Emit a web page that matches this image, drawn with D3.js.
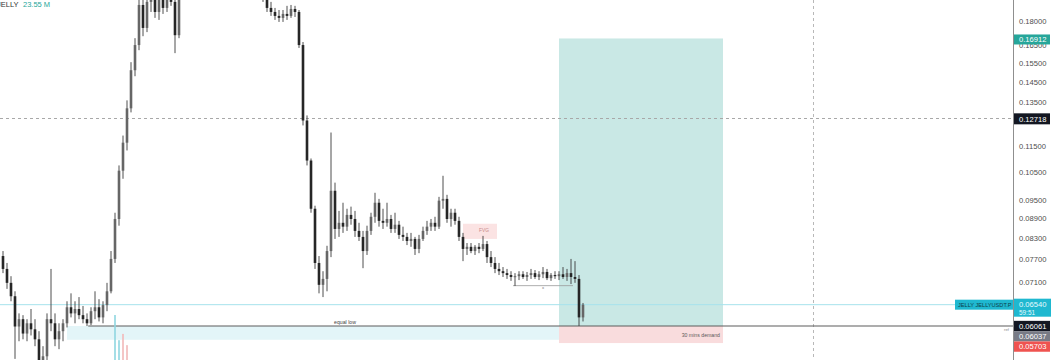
<!DOCTYPE html>
<html>
<head>
<meta charset="utf-8">
<script src="https://cdn.jsdelivr.net/npm/d3@7"></script>
<style>
html, body { margin: 0; padding: 0; background: #fff; overflow: hidden; }
svg { display: block; font-family: "Liberation Sans", Arial, sans-serif; }
</style>
</head>
<body>
<div id="chart"></div>
<script>
// JELLYUSDT.P candles (one every ~4px)
const opens = [
  0.0778,0.0743,0.0707,0.0674,0.0605,0.0621,0.0590,0.0612,0.0599,0.0578,
  0.0534,0.0544,0.0621,0.0612,0.0578,0.0595,0.0612,0.0648,0.0634,0.0644,
  0.0630,0.0621,0.0612,0.0639,0.0648,0.0625,0.0653,0.0686,0.0770,0.0888,
  0.1055,0.1166,0.1318,0.1510,0.1652,0.1906,0.1756,0.1927,0.1996,0.1859,
  0.1941,0.1886,0.1975,0.1927,0.1711,0.1975,0.2085,0.2150,0.2230,0.2200,
  0.2270,0.2350,0.2310,0.2250,0.2300,0.2370,0.2340,0.2280,0.2220,0.2260,
  0.2180,0.2150,0.2110,0.2130,0.2070,0.2048,0.1954,0.1886,0.1859,0.1833,
  0.1820,0.1846,0.1833,0.1879,0.1859,0.1652,0.1262,0.1094,0.0921,0.0759,
  0.0702,0.0717,0.0792,0.0982,0.0857,0.0876,0.0864,0.0901,0.0888,0.0851,
  0.0833,0.0792,0.0851,0.0895,0.0941,0.0882,0.0876,0.0888,0.0857,0.0870,
  0.0839,0.0833,0.0821,0.0827,0.0798,0.0827,0.0851,0.0864,0.0876,0.0864,
  0.0948,0.0954,0.0888,0.0908,0.0882,0.0833,0.0798,0.0804,0.0792,0.0804,
  0.0798,0.0812,0.0775,0.0759,0.0743,0.0737,0.0732,0.0727,0.0722,0.0724,
  0.0729,0.0722,0.0727,0.0732,0.0722,0.0729,0.0735,0.0719,0.0727,0.0724,
  0.0729,0.0722,0.0732,0.0722,0.0717,0.0625
];
const highs = [
  0.0792,0.0759,0.0724,0.0686,0.0634,0.0630,0.0621,0.0644,0.0621,0.0595,
  0.0564,0.0634,0.0743,0.0634,0.0612,0.0621,0.0662,0.0681,0.0662,0.0672,
  0.0651,0.0634,0.0648,0.0686,0.0667,0.0662,0.0707,0.0792,0.0908,0.1075,
  0.1196,0.1356,0.1554,0.1693,0.1975,0.2011,0.1996,0.2048,0.2085,0.1975,
  0.2025,0.2011,0.2048,0.1996,0.2011,0.2123,0.2180,0.2260,0.2310,0.2290,
  0.2380,0.2420,0.2360,0.2330,0.2400,0.2450,0.2380,0.2330,0.2290,0.2300,
  0.2240,0.2210,0.2170,0.2160,0.2110,0.2100,0.1982,0.1927,0.1886,0.1872,
  0.1872,0.1900,0.1906,0.1900,0.1872,0.1670,0.1285,0.1102,0.0931,0.0778,
  0.0737,0.0807,0.1209,0.1011,0.0914,0.0941,0.0921,0.0928,0.0914,0.0876,
  0.0851,0.0867,0.0908,0.0975,0.0954,0.0921,0.0941,0.0901,0.0908,0.0882,
  0.0864,0.0845,0.0845,0.0833,0.0839,0.0864,0.0882,0.0888,0.0895,0.0961,
  0.1036,0.0968,0.0921,0.0921,0.0895,0.0845,0.0815,0.0815,0.0809,0.0815,
  0.0836,0.0821,0.0792,0.0775,0.0759,0.0748,0.0743,0.0737,0.0732,0.0737,
  0.0737,0.0735,0.0743,0.0740,0.0737,0.0748,0.0743,0.0732,0.0737,0.0737,
  0.0748,0.0743,0.0770,0.0764,0.0727,0.0658
];
const lows = [
  0.0732,0.0692,0.0662,0.0539,0.0574,0.0578,0.0574,0.0586,0.0564,0.0525,
  0.0513,0.0525,0.0595,0.0564,0.0558,0.0574,0.0603,0.0625,0.0612,0.0621,
  0.0612,0.0606,0.0608,0.0621,0.0616,0.0612,0.0639,0.0681,0.0759,0.0867,
  0.1025,0.1134,0.1299,0.1478,0.1622,0.1705,0.1730,0.1859,0.1820,0.1807,
  0.1846,0.1859,0.1900,0.1605,0.1693,0.1941,0.2050,0.2120,0.2170,0.2150,
  0.2240,0.2280,0.2220,0.2200,0.2260,0.2310,0.2250,0.2190,0.2170,0.2160,
  0.2110,0.2080,0.2060,0.2040,0.2010,0.1927,0.1859,0.1833,0.1807,0.1794,
  0.1794,0.1807,0.1820,0.1826,0.1635,0.1240,0.1075,0.0908,0.0743,0.0681,
  0.0672,0.0686,0.0775,0.0827,0.0833,0.0845,0.0851,0.0870,0.0833,0.0821,
  0.0745,0.0781,0.0839,0.0876,0.0864,0.0857,0.0864,0.0845,0.0845,0.0827,
  0.0821,0.0809,0.0804,0.0781,0.0786,0.0821,0.0839,0.0851,0.0851,0.0857,
  0.0921,0.0876,0.0864,0.0870,0.0821,0.0764,0.0781,0.0786,0.0781,0.0786,
  0.0792,0.0759,0.0748,0.0732,0.0727,0.0722,0.0717,0.0712,0.0699,0.0714,
  0.0717,0.0712,0.0717,0.0717,0.0714,0.0719,0.0714,0.0712,0.0717,0.0714,
  0.0717,0.0712,0.0704,0.0707,0.06061,0.0616
];
const closes = [
  0.0743,0.0707,0.0674,0.0605,0.0621,0.0590,0.0612,0.0599,0.0578,0.0534,
  0.0544,0.0621,0.0612,0.0578,0.0595,0.0612,0.0648,0.0634,0.0644,0.0630,
  0.0621,0.0612,0.0639,0.0648,0.0625,0.0653,0.0686,0.0770,0.0888,0.1055,
  0.1166,0.1318,0.1510,0.1652,0.1906,0.1756,0.1927,0.1996,0.1859,0.1941,
  0.1886,0.1975,0.1927,0.1711,0.1975,0.2085,0.2150,0.2230,0.2200,0.2270,
  0.2350,0.2310,0.2250,0.2300,0.2370,0.2340,0.2280,0.2220,0.2260,0.2180,
  0.2150,0.2110,0.2130,0.2070,0.2048,0.1954,0.1886,0.1859,0.1833,0.1820,
  0.1846,0.1833,0.1879,0.1859,0.1652,0.1262,0.1094,0.0921,0.0759,0.0702,
  0.0717,0.0792,0.0982,0.0857,0.0876,0.0864,0.0901,0.0888,0.0851,0.0833,
  0.0792,0.0851,0.0895,0.0941,0.0882,0.0876,0.0888,0.0857,0.0870,0.0839,
  0.0833,0.0821,0.0827,0.0798,0.0827,0.0851,0.0864,0.0876,0.0864,0.0948,
  0.0954,0.0888,0.0908,0.0882,0.0833,0.0798,0.0804,0.0792,0.0804,0.0798,
  0.0812,0.0775,0.0759,0.0743,0.0737,0.0732,0.0727,0.0722,0.0724,0.0729,
  0.0722,0.0727,0.0732,0.0722,0.0729,0.0735,0.0719,0.0727,0.0724,0.0729,
  0.0722,0.0732,0.0722,0.0717,0.0625,0.0654
];

// the few volume bars that show at the bottom
const volIndex = [28, 29, 30, 31];
const volValues = [100, 44, 58, 33];
const volSide = ["buy", "buy", "sell", "sell"];

// right price scale
const tickValues = [0.18, 0.165, 0.155, 0.145, 0.135, 0.115, 0.105, 0.095, 0.089, 0.083, 0.077, 0.071];

// drawings
const targetPrice = 0.16912;
const equalLow = 0.06061;
const refPrice = 0.06037;
const stopPrice = 0.05703;
const crossPrice = 0.12718;
const demandLow = 0.0577;
const fvgZone = [0.0827, 0.0873];
const rangeLowPrice = 0.0700;
const countdown = "59:51";

// anchors on the time axis (candle index)
const positionFrom = 139, positionTo = 180;
const demandFrom = 16;
const equalLowFrom = 21.3;
const fvgFrom = 115, fvgTo = 123.5;
const rangeFrom = 127.5, rangeTo = 142.5;
const crossIndex = 202.5;

// ---------------------------------------------------------------
const width = 1054, height = 360;
const plotRight = 1013;

const svg = d3.select("#chart").append("svg")
  .attr("width", width)
  .attr("height", height);

const x = d3.scaleLinear().domain([-0.75, 252.5]).range([0, plotRight]);
const y = d3.scaleLog().domain([0.18, equalLow]).range([21, 326]);
const v = d3.scaleLinear().domain([0, 100]).range([height, 315]);

svg.append("defs").append("clipPath").attr("id", "plot")
  .append("rect").attr("x", 0).attr("y", 0).attr("width", plotRight).attr("height", height);

const plot = svg.append("g").attr("clip-path", "url(#plot)");

// demand band under the equal low
plot.append("rect")
  .attr("x", x(demandFrom)).attr("y", y(equalLow))
  .attr("width", x(positionFrom) - x(demandFrom))
  .attr("height", y(demandLow) - y(equalLow))
  .attr("fill", "#e3f5f8");

// long position box
plot.append("rect")
  .attr("x", x(positionFrom)).attr("y", y(targetPrice))
  .attr("width", x(positionTo) - x(positionFrom))
  .attr("height", y(equalLow) - y(targetPrice))
  .attr("fill", "#c9e8e5");
plot.append("rect")
  .attr("x", x(positionFrom)).attr("y", y(equalLow))
  .attr("width", x(positionTo) - x(positionFrom))
  .attr("height", y(stopPrice) - y(equalLow))
  .attr("fill", "#f9dcdd");
plot.append("text")
  .attr("x", x(positionTo) - 3).attr("y", (y(equalLow) + y(stopPrice)) / 2 + 2)
  .attr("text-anchor", "end").attr("font-size", 5.2).attr("fill", "#5a5a5a")
  .text("30 mins demand");

// fvg
plot.append("rect")
  .attr("x", x(fvgFrom)).attr("y", y(fvgZone[1]))
  .attr("width", x(fvgTo) - x(fvgFrom))
  .attr("height", y(fvgZone[0]) - y(fvgZone[1]))
  .attr("fill", "#fbe3e3");
plot.append("text")
  .attr("x", (x(fvgFrom) + x(fvgTo)) / 2 + 4).attr("y", y(fvgZone[1]) + 8)
  .attr("text-anchor", "middle").attr("font-size", 4.8).attr("fill", "#c98a8a")
  .text("FVG");

// crosshair
plot.append("line")
  .attr("x1", 0).attr("x2", plotRight)
  .attr("y1", Math.round(y(crossPrice)) + 0.5).attr("y2", Math.round(y(crossPrice)) + 0.5)
  .attr("stroke", "#a8a8a8").attr("stroke-dasharray", "3,3");
plot.append("line")
  .attr("x1", Math.round(x(crossIndex)) + 0.5).attr("x2", Math.round(x(crossIndex)) + 0.5)
  .attr("y1", 0).attr("y2", height)
  .attr("stroke", "#b8b8b8").attr("stroke-dasharray", "3,3");

// last price line
const lastPrice = closes[closes.length - 1];
plot.append("line")
  .attr("x1", 0).attr("x2", plotRight)
  .attr("y1", y(lastPrice)).attr("y2", y(lastPrice))
  .attr("stroke", "#a6e3ec").attr("stroke-width", 1);

// equal low line
plot.append("line")
  .attr("x1", x(equalLowFrom)).attr("x2", plotRight)
  .attr("y1", y(equalLow)).attr("y2", y(equalLow))
  .attr("stroke", "#5c5c5c").attr("stroke-width", 1.2);
plot.append("text")
  .attr("x", 345).attr("y", y(equalLow) - 2.5)
  .attr("text-anchor", "middle").attr("font-size", 5.2).attr("fill", "#444")
  .text("equal low");
plot.append("text")
  .attr("x", plotRight - 4).attr("y", y(refPrice) + 4)
  .attr("text-anchor", "end").attr("font-size", 4.2).attr("fill", "#888")
  .text("ref");

// small range marker under the consolidation
plot.append("line")
  .attr("x1", x(rangeFrom)).attr("x2", x(rangeTo))
  .attr("y1", y(rangeLowPrice)).attr("y2", y(rangeLowPrice))
  .attr("stroke", "#9a9a9a").attr("stroke-width", 0.8);
plot.append("text")
  .attr("x", (x(rangeFrom) + x(rangeTo)) / 2).attr("y", y(rangeLowPrice) + 3)
  .attr("text-anchor", "middle").attr("font-size", 4.2).attr("fill", "#777")
  .text("x");

// volume
plot.selectAll("rect.vol").data(volIndex).join("rect")
  .attr("class", "vol")
  .attr("x", d => x(d) - 0.8)
  .attr("y", (d, i) => v(volValues[i]))
  .attr("width", 1.6)
  .attr("height", (d, i) => height - v(volValues[i]))
  .attr("fill", (d, i) => volSide[i] === "buy" ? "#8fd6e0" : "#f2b8b8");

// candles
const candles = d3.range(closes.length);
const bw = 2.6;
const g = plot.append("g");
g.selectAll("line.wick").data(candles).join("line")
  .attr("class", "wick")
  .attr("x1", i => x(i)).attr("x2", i => x(i))
  .attr("y1", i => y(highs[i])).attr("y2", i => y(lows[i]))
  .attr("stroke", "#3b3b3b").attr("stroke-width", 0.9);
g.selectAll("rect.body").data(candles).join("rect")
  .attr("class", "body")
  .attr("x", i => x(i) - bw / 2)
  .attr("y", i => y(Math.max(opens[i], closes[i])))
  .attr("width", bw)
  .attr("height", i => Math.max(1, Math.abs(y(opens[i]) - y(closes[i]))))
  .attr("fill", i => closes[i] >= opens[i] ? "#666" : "#262626");

// legend top-left (symbol name runs off the left edge, as in the source)
svg.append("text").attr("x", -3).attr("y", 7)
  .attr("font-size", 7.5).attr("fill", "#333").text("JELLY");
svg.append("text").attr("x", 23).attr("y", 7)
  .attr("font-size", 7.5).attr("fill", "#26a69a").text("23.55 M");

// price axis
svg.append("line")
  .attr("x1", plotRight + 0.5).attr("x2", plotRight + 0.5)
  .attr("y1", 0).attr("y2", height)
  .attr("stroke", "#8f8f8f");

const axis = svg.append("g")
  .attr("transform", `translate(${plotRight + 4},0)`)
  .call(d3.axisRight(y).tickValues(tickValues).tickFormat(d3.format(".5f")).tickSize(0));
axis.select(".domain").remove();
axis.selectAll("text")
  .attr("x", 2)
  .attr("font-family", "Liberation Sans, Arial, sans-serif")
  .attr("font-size", 7.6).attr("fill", "#4d4d4d");

// price tags
function tag(cy, txt, fill, color, h) {
  svg.append("rect")
    .attr("x", plotRight + 1).attr("y", cy - h / 2)
    .attr("width", 36).attr("height", h)
    .attr("fill", fill);
  svg.append("text")
    .attr("x", plotRight + 6).attr("y", cy + 2.7)
    .attr("font-size", 7.6).attr("fill", color).text(txt);
}
const fmt = d3.format(".5f");

tag(y(targetPrice) + 1, fmt(targetPrice), "#26a69a", "#fff", 10);
tag(y(crossPrice) + 0.5, fmt(crossPrice), "#131722", "#fff", 11);

// stacked tags at the bottom, pushed down when they collide
const stack = [
  { p: equalLow, fill: "#131722" },
  { p: refPrice, fill: "#787b86" },
  { p: stopPrice, fill: "#ef5350" }
];
let prev = -Infinity;
stack.forEach(s => {
  let cy = Math.max(y(s.p), prev + 10.3);
  tag(cy, fmt(s.p), s.fill, "#fff", 10.3);
  prev = cy;
});

// last price tag with countdown
const ly = y(lastPrice);
svg.append("rect")
  .attr("x", plotRight + 1).attr("y", ly - 6)
  .attr("width", 37).attr("height", 18)
  .attr("fill", "#1fb8d0");
svg.append("text")
  .attr("x", plotRight + 6).attr("y", ly + 2.5)
  .attr("font-size", 7.6).attr("fill", "#e9fbff").text(fmt(lastPrice));
svg.append("text")
  .attr("x", plotRight + 6).attr("y", ly + 10)
  .attr("font-size", 6.4).attr("fill", "#e9fbff").text(countdown);

// symbol tag on the price line
svg.append("rect")
  .attr("x", 955).attr("y", ly - 5)
  .attr("width", plotRight - 955).attr("height", 10)
  .attr("fill", "#1fb8d0");
svg.append("text")
  .attr("x", 958).attr("y", ly + 2)
  .attr("font-size", 5.6).attr("fill", "#0d3f4a").text("JELLY JELLYUSDT.P");
</script>
</body>
</html>
